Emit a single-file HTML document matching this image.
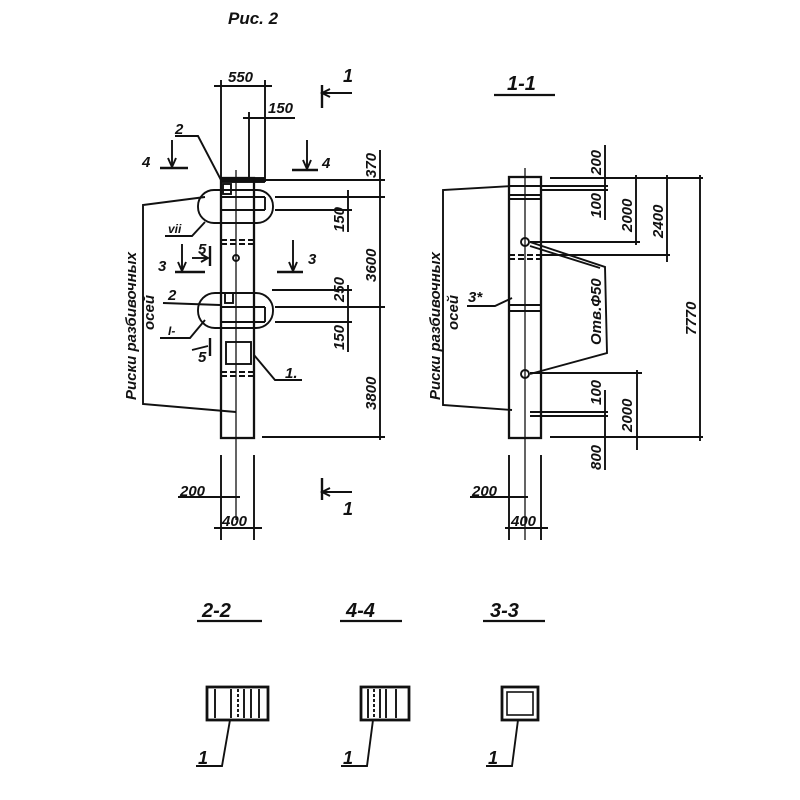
<!DOCTYPE html>
<html><head><meta charset="utf-8"><style>
html,body{margin:0;padding:0;background:#fff;}
svg{display:block;}
text{font-family:"Liberation Sans",sans-serif;font-style:italic;font-weight:bold;fill:#111;}
</style></head><body>
<svg width="800" height="800" viewBox="0 0 800 800" xmlns="http://www.w3.org/2000/svg">
<g stroke="#111" stroke-width="1.9" fill="none">
<!-- LEFT VIEW -->
<rect x="221" y="178" width="33" height="260" stroke-width="2.3"/>
<rect x="221" y="178" width="43" height="4" fill="#111"/>
<line x1="236" y1="170" x2="236" y2="520" stroke-width="1.3"/>
<line x1="249" y1="112" x2="249" y2="178"/>
<line x1="265" y1="80" x2="265" y2="182"/>
<line x1="221" y1="80" x2="221" y2="178"/>
<line x1="214" y1="86" x2="272" y2="86"/>
<line x1="243" y1="118" x2="295" y2="118"/>
<rect x="198" y="190" width="75" height="33" rx="16"/>
<rect x="198" y="293" width="75" height="35" rx="17"/>
<line x1="221" y1="197" x2="265" y2="197"/><line x1="221" y1="210" x2="265" y2="210"/>
<line x1="265" y1="197" x2="265" y2="210"/>
<line x1="221" y1="307" x2="265" y2="307"/><line x1="221" y1="322" x2="265" y2="322"/>
<line x1="265" y1="307" x2="265" y2="322"/>
<rect x="223" y="184" width="8" height="10"/><rect x="225" y="293" width="8" height="10"/>
<line x1="254" y1="178" x2="254" y2="215"/>
<rect x="226" y="342" width="25" height="22"/>
<g stroke-dasharray="6,3"><line x1="221" y1="240" x2="254" y2="240"/><line x1="221" y1="244" x2="254" y2="244"/>
<line x1="221" y1="372" x2="254" y2="372"/><line x1="221" y1="376" x2="254" y2="376"/></g>
<circle cx="236" cy="258" r="3"/>
<line x1="265" y1="180" x2="385" y2="180"/>
<line x1="275" y1="197" x2="385" y2="197"/>
<line x1="275" y1="210" x2="352" y2="210"/>
<line x1="272" y1="290" x2="352" y2="290"/>
<line x1="275" y1="307" x2="385" y2="307"/>
<line x1="275" y1="322" x2="352" y2="322"/>
<line x1="262" y1="437" x2="385" y2="437"/>
<line x1="380" y1="150" x2="380" y2="440"/>
<line x1="348" y1="190" x2="348" y2="232"/>
<line x1="348" y1="285" x2="348" y2="352"/>
<line x1="221" y1="455" x2="221" y2="540"/><line x1="254" y1="455" x2="254" y2="540"/>
<line x1="178" y1="497" x2="240" y2="497"/>
<line x1="214" y1="528" x2="262" y2="528"/>
<line x1="322" y1="85" x2="322" y2="108" stroke-width="2.4"/><line x1="322" y1="93" x2="352" y2="93"/><path d="M330 89 L322 93 L330 97"/>
<line x1="322" y1="478" x2="322" y2="500" stroke-width="2.4"/><line x1="322" y1="492" x2="352" y2="492"/><path d="M330 488 L322 492 L330 496"/>
<line x1="172" y1="140" x2="172" y2="167"/><line x1="160" y1="168" x2="188" y2="168" stroke-width="2.4"/><path d="M168 158 L172 167 L176 158"/>
<line x1="307" y1="140" x2="307" y2="169"/><line x1="292" y1="170" x2="318" y2="170" stroke-width="2.4"/><path d="M303 160 L307 169 L311 160"/>
<line x1="182" y1="244" x2="182" y2="271"/><line x1="175" y1="272" x2="205" y2="272" stroke-width="2.4"/><path d="M178 262 L182 271 L186 262"/>
<line x1="293" y1="240" x2="293" y2="271"/><line x1="277" y1="272" x2="303" y2="272" stroke-width="2.4"/><path d="M289 262 L293 271 L297 262"/>
<line x1="192" y1="258" x2="208" y2="258"/><line x1="210" y1="246" x2="210" y2="266" stroke-width="2.4"/><path d="M201 254 L208 258 L201 262"/>
<line x1="192" y1="350" x2="208" y2="346"/><line x1="210" y1="338" x2="210" y2="356" stroke-width="2.4"/>
<path d="M175 136 L198 136 L221 180"/>
<path d="M165 236 L192 236 L205 222"/>
<path d="M163 303 L220 305"/>
<path d="M160 338 L190 338 L205 320"/>
<path d="M254 355 L275 380 L302 380"/>
<path d="M205 197 L143 205 L143 404 L236 412"/>
<!-- RIGHT VIEW -->
<line x1="494" y1="95" x2="555" y2="95" stroke-width="2.2"/>
<rect x="509" y="177" width="32" height="261" stroke-width="2.3"/>
<line x1="525" y1="168" x2="525" y2="540" stroke-width="1.3"/>
<line x1="509" y1="186" x2="541" y2="186"/><line x1="509" y1="195" x2="541" y2="195"/><line x1="509" y1="199" x2="541" y2="199"/>
<line x1="509" y1="305" x2="541" y2="305"/><line x1="509" y1="311" x2="541" y2="311"/>
<g stroke-dasharray="6,3"><line x1="509" y1="255" x2="541" y2="255"/><line x1="509" y1="259" x2="541" y2="259"/></g>
<circle cx="525" cy="242" r="4"/><circle cx="525" cy="374" r="4"/>
<line x1="550" y1="178" x2="703" y2="178"/>
<line x1="541" y1="186" x2="608" y2="186"/><line x1="541" y1="190" x2="608" y2="190"/>
<line x1="530" y1="242" x2="640" y2="242"/>
<line x1="541" y1="255" x2="670" y2="255"/>
<line x1="530" y1="373" x2="642" y2="373"/>
<line x1="530" y1="412" x2="608" y2="412"/><line x1="530" y1="416" x2="608" y2="416"/>
<line x1="550" y1="437" x2="703" y2="437"/>
<line x1="605" y1="145" x2="605" y2="220"/>
<line x1="636" y1="175" x2="636" y2="245"/>
<line x1="667" y1="175" x2="667" y2="262"/>
<line x1="700" y1="175" x2="700" y2="441"/>
<line x1="637" y1="370" x2="637" y2="450"/>
<line x1="605" y1="390" x2="605" y2="470"/>
<path d="M530 242 L605 267 L607 353 L530 374"/>
<path d="M530 246 L600 268"/>
<path d="M512 186 L443 190 L443 405 L512 410"/>
<path d="M467 306 L495 306 L512 298"/>
<line x1="509" y1="455" x2="509" y2="540"/><line x1="541" y1="455" x2="541" y2="540"/>
<line x1="470" y1="497" x2="528" y2="497"/>
<line x1="505" y1="528" x2="548" y2="528"/>
<!-- SECTIONS -->
<line x1="197" y1="621" x2="262" y2="621" stroke-width="2.2"/>
<line x1="340" y1="621" x2="402" y2="621" stroke-width="2.2"/>
<line x1="483" y1="621" x2="545" y2="621" stroke-width="2.2"/>
<rect x="207" y="687" width="61" height="33" stroke-width="2.8"/>
<line x1="215" y1="689" x2="215" y2="718"/><line x1="231" y1="689" x2="231" y2="718"/><line x1="238" y1="689" x2="238" y2="718" stroke-dasharray="3,2"/><line x1="244" y1="689" x2="244" y2="718"/><line x1="251" y1="689" x2="251" y2="718"/><line x1="259" y1="689" x2="259" y2="718"/>
<rect x="361" y="687" width="48" height="33" stroke-width="2.8"/>
<line x1="368" y1="689" x2="368" y2="718"/><line x1="374" y1="689" x2="374" y2="718" stroke-dasharray="3,2"/><line x1="380" y1="689" x2="380" y2="718"/><line x1="386" y1="689" x2="386" y2="718"/><line x1="396" y1="689" x2="396" y2="718"/>
<rect x="502" y="687" width="36" height="33" stroke-width="2.8"/>
<rect x="507" y="692" width="26" height="23" stroke-width="1.6"/>
<path d="M230 720 L222 766 L196 766"/>
<path d="M373 720 L367 766 L341 766"/>
<path d="M518 720 L512 766 L486 766"/>
</g>
<g font-size="15">
<text x="228" y="24" font-size="17">Рис. 2</text>
<text x="228" y="82">550</text>
<text x="268" y="113">150</text>
<text x="343" y="82" font-size="18">1</text>
<text x="343" y="515" font-size="18">1</text>
<text x="142" y="167">4</text>
<text x="322" y="168">4</text>
<text x="158" y="271">3</text>
<text x="308" y="264">3</text>
<text x="198" y="254">5</text>
<text x="198" y="362">5</text>
<text x="175" y="134">2</text>
<text x="168" y="233" font-size="12">vii</text>
<text x="168" y="300">2</text>
<text x="168" y="335" font-size="12">I-</text>
<text x="285" y="378">1.</text>
<text x="180" y="496">200</text>
<text x="222" y="526">400</text>
<text x="507" y="90" font-size="20">1-1</text>
<text x="468" y="302">3*</text>
<text x="472" y="496">200</text>
<text x="511" y="526">400</text>
<text x="202" y="617" font-size="20">2-2</text>
<text x="346" y="617" font-size="20">4-4</text>
<text x="490" y="617" font-size="20">3-3</text>
<text x="198" y="764" font-size="18">1</text>
<text x="343" y="764" font-size="18">1</text>
<text x="488" y="764" font-size="18">1</text>
</g>
<g font-size="15">
<text transform="translate(376,178) rotate(-90)">370</text>
<text transform="translate(376,282) rotate(-90)">3600</text>
<text transform="translate(376,410) rotate(-90)">3800</text>
<text transform="translate(344,232) rotate(-90)">150</text>
<text transform="translate(344,302) rotate(-90)">250</text>
<text transform="translate(344,350) rotate(-90)">150</text>
<text transform="translate(601,175) rotate(-90)">200</text>
<text transform="translate(601,218) rotate(-90)">100</text>
<text transform="translate(632,232) rotate(-90)">2000</text>
<text transform="translate(663,238) rotate(-90)">2400</text>
<text transform="translate(696,335) rotate(-90)">7770</text>
<text transform="translate(601,405) rotate(-90)">100</text>
<text transform="translate(632,432) rotate(-90)">2000</text>
<text transform="translate(601,470) rotate(-90)">800</text>
<text transform="translate(601,345) rotate(-90)">Отв.Ф50</text>
<text transform="translate(136,400) rotate(-90)">Риски разбивочных</text>
<text transform="translate(154,330) rotate(-90)">осей</text>
<text transform="translate(440,400) rotate(-90)">Риски разбивочных</text>
<text transform="translate(458,330) rotate(-90)">осей</text>
</g>
</svg>
</body></html>
